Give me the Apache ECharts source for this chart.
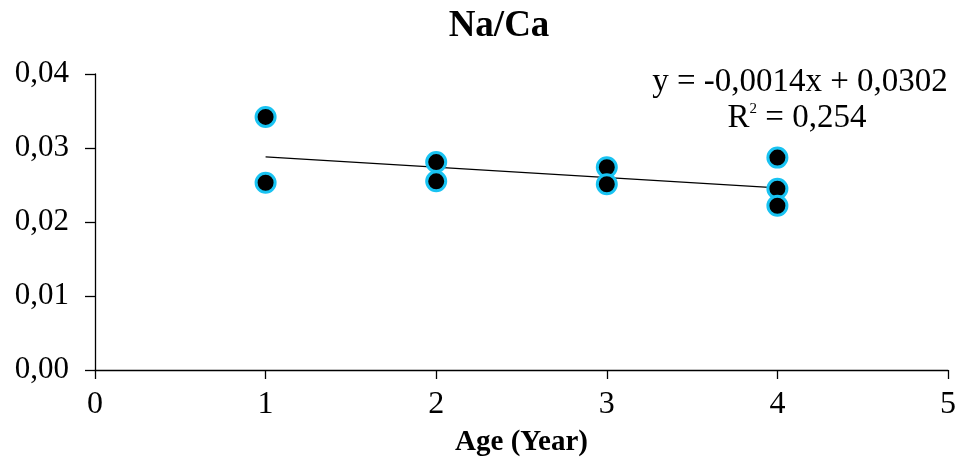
<!DOCTYPE html>
<html><head><meta charset="utf-8">
<script src="https://cdn.jsdelivr.net/npm/echarts@6/dist/echarts.min.js"></script>
<style>html,body{margin:0;padding:0;background:#fff}#c{width:960px;height:461px}</style>
</head><body><div id="c"></div>
<script>
const ageX = [1, 1, 2, 2, 3, 3, 4, 4, 4];
const naCa = [0.0342, 0.0253, 0.0281, 0.0255, 0.0274, 0.0251, 0.0287, 0.0245, 0.0222];
const trendX = [1, 4];
const trendY = [0.0288, 0.0246];
const xTicks = [0, 1, 2, 3, 4, 5];
const yTicks = ['0,00', '0,01', '0,02', '0,03', '0,04'];
const titleText = 'Na/Ca';
const xName = 'Age (Year)';
const eqLine = 'y = -0,0014x + 0,0302';
const r2Value = '0,254';

const F = '"Liberation Serif", "Times New Roman", serif';
const chart = echarts.init(document.getElementById('c'));
chart.setOption({
  animation: false,
  backgroundColor: '#fff',
  title: {
    text: titleText, left: 494, top: 3, textAlign: 'center',
    textStyle: { fontFamily: F, fontSize: 37, fontWeight: 'bold', color: '#000' }
  },
  graphic: [
    {
      type: 'text', z: 10,
      style: { x: 800, y: 82, text: eqLine, textAlign: 'center', textVerticalAlign: 'middle',
        font: '33px ' + F, fill: '#000' }
    },
    {
      type: 'text', z: 10,
      style: { x: 797, y: 118, text: '{a|R}{s|2}{a| = ' + r2Value + '}', textAlign: 'center', textVerticalAlign: 'middle',
        rich: {
          a: { fontFamily: F, fontSize: 33, color: '#000' },
          s: { fontFamily: F, fontSize: 15, color: '#000', verticalAlign: 'top', padding: [0, 0, 14, 0] }
        } }
    }
  ],
  grid: { left: 95, right: 12, top: 74, bottom: 91, containLabel: false, outerBoundsMode: 'none' },
  xAxis: {
    type: 'value', min: 0, max: 5, interval: 1,
    name: xName, nameLocation: 'middle', nameGap: 58,
    nameTextStyle: { fontFamily: F, fontSize: 29, fontWeight: 'bold', color: '#000' },
    axisLine: { show: true, onZero: false, lineStyle: { color: '#000', width: 1.3 } },
    axisTick: { show: true, length: 9, lineStyle: { color: '#000', width: 1.3 } },
    axisLabel: { fontFamily: F, fontSize: 32, color: '#000', margin: 19,
      formatter: v => String(xTicks[Math.round(v)]) },
    splitLine: { show: false }
  },
  yAxis: {
    type: 'value', min: 0, max: 0.04, interval: 0.01,
    axisLine: { show: true, lineStyle: { color: '#000', width: 1.3 } },
    axisTick: { show: true, length: 10, lineStyle: { color: '#000', width: 1.3 } },
    axisLabel: { fontFamily: F, fontSize: 31, color: '#000', margin: 26,
      formatter: v => yTicks[Math.round(v * 100)] },
    splitLine: { show: false }
  },
  series: [
    {
      type: 'line', data: trendX.map((x, i) => [x, trendY[i]]),
      symbol: 'none', lineStyle: { color: '#000', width: 1.3 }, z: 1
    },
    {
      type: 'scatter', data: ageX.map((x, i) => [x, naCa[i]]),
      symbolSize: 19,
      itemStyle: { color: '#000', borderColor: '#19C3F2', borderWidth: 3, opacity: 1 },
      z: 3
    }
  ]
});
</script></body></html>
